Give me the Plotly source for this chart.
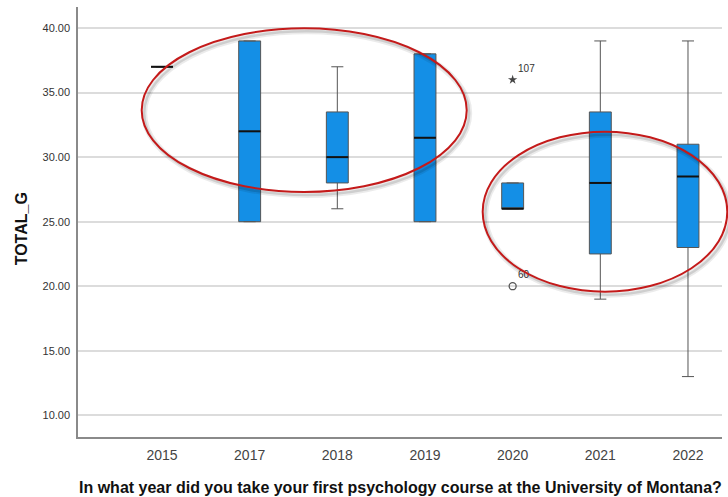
import plotly.graph_objects as go

# Summary statistics of TOTAL_G by year of first psychology course
years = ["2015", "2017", "2018", "2019", "2020", "2021", "2022"]
q1 = [37, 25, 28, 25, 26, 22.5, 23]
median = [37, 32, 30, 31.5, 26, 28, 28.5]
q3 = [37, 39, 33.5, 38, 28, 33.5, 31]
lower_fence = [37, 25, 26, 25, 26, 19, 13]
upper_fence = [37, 39, 37, 38, 28, 39, 39]

# Flagged cases (year, value, case id, kind)
outlier_years = ["2020", "2020"]
outlier_values = [36, 20]
outlier_ids = ["107", "60"]
outlier_kinds = ["extreme", "outlier"]

pos = list(range(len(years)))
box_w = 0.25
font_family = "Liberation Sans, Arial, sans-serif"

fig = go.Figure()

fig.add_trace(go.Box(
    x=pos, q1=q1, median=median, q3=q3,
    lowerfence=lower_fence, upperfence=upper_fence,
    width=box_w, whiskerwidth=0.55,
    fillcolor="rgb(20,143,230)",
    line=dict(color="#555555", width=1),
    boxpoints=False, hoverinfo="skip", showlegend=False,
))

# Heavier median bars drawn on top of the boxes
mx, my = [], []
for p, m in zip(pos, median):
    mx += [p - box_w / 2, p + box_w / 2, None]
    my += [m, m, None]
fig.add_trace(go.Scatter(x=mx, y=my, mode="lines",
                         line=dict(color="#111111", width=2),
                         hoverinfo="skip", showlegend=False))

# Outlier markers with case labels
for yr, v, cid, kind in zip(outlier_years, outlier_values, outlier_ids, outlier_kinds):
    p = years.index(yr)
    if kind == "extreme":
        marker = dict(symbol="star", size=7, color="#444444", line=dict(width=0))
    else:
        marker = dict(symbol="circle-open", size=7, color="#555555",
                      line=dict(width=1.3, color="#555555"))
    fig.add_trace(go.Scatter(
        x=[p], y=[v], mode="markers+text", marker=marker,
        text=[cid], textposition="top right",
        textfont=dict(family=font_family, size=10, color="#333333"),
        hoverinfo="skip", showlegend=False))

# Red highlight ellipses with a soft drop shadow (paper coordinates)
ellipses = [
    (0.0989, 0.5698, 0.6036, 0.9505),
    (0.6284, 0.3379, 1.0082, 0.7100),
]
shapes = []
for x0, y0, x1, y1 in ellipses:
    dx, dy = 2.5 / 644, -3 / 430
    shapes.append(dict(type="circle", xref="paper", yref="paper",
                       x0=x0 + dx, y0=y0 + dy, x1=x1 + dx, y1=y1 + dy,
                       line=dict(color="rgba(0,0,0,0.08)", width=6)))
    shapes.append(dict(type="circle", xref="paper", yref="paper",
                       x0=x0 + dx, y0=y0 + dy, x1=x1 + dx, y1=y1 + dy,
                       line=dict(color="rgba(0,0,0,0.12)", width=2.5)))
    shapes.append(dict(type="circle", xref="paper", yref="paper",
                       x0=x0, y0=y0, x1=x1, y1=y1,
                       line=dict(color="#c41a1a", width=2)))

fig.update_layout(
    width=728, height=497,
    margin=dict(l=78, r=6, t=7, b=60),
    paper_bgcolor="white", plot_bgcolor="white",
    font=dict(family=font_family, color="#333333"),
    shapes=shapes,
    xaxis=dict(
        range=[-0.958, 6.388],
        tickvals=pos, ticktext=years,
        tickfont=dict(size=14, color="#444444"),
        showgrid=False, zeroline=False,
        showline=True, linecolor="#8a8a8a", linewidth=1.5,
        ticks="", ticklen=0, ticklabelstandoff=4,
    ),
    yaxis=dict(
        range=[8.32, 41.63],
        tickvals=[10, 15, 20, 25, 30, 35, 40],
        tickformat=".2f",
        tickfont=dict(size=11, color="#333333"),
        showgrid=True, gridcolor="#dcdcdc", gridwidth=2,
        zeroline=False,
        showline=True, linecolor="#8a8a8a", linewidth=1.5,
        ticks="", ticklabelstandoff=4,
    ),
    annotations=[
        dict(text="<b>TOTAL_G</b>", textangle=-90,
             xref="paper", yref="paper", x=-0.0885, y=0.483,
             xanchor="center", yanchor="middle", showarrow=False,
             font=dict(size=16, color="#111111")),
        dict(text="<b>In what year did you take your first psychology course at the University of Montana?</b>",
             xref="paper", yref="paper", x=0.5, y=-0.1163,
             xanchor="center", yanchor="middle", showarrow=False,
             font=dict(size=16, color="#111111")),
    ],
)

fig.write_html("out.html")
